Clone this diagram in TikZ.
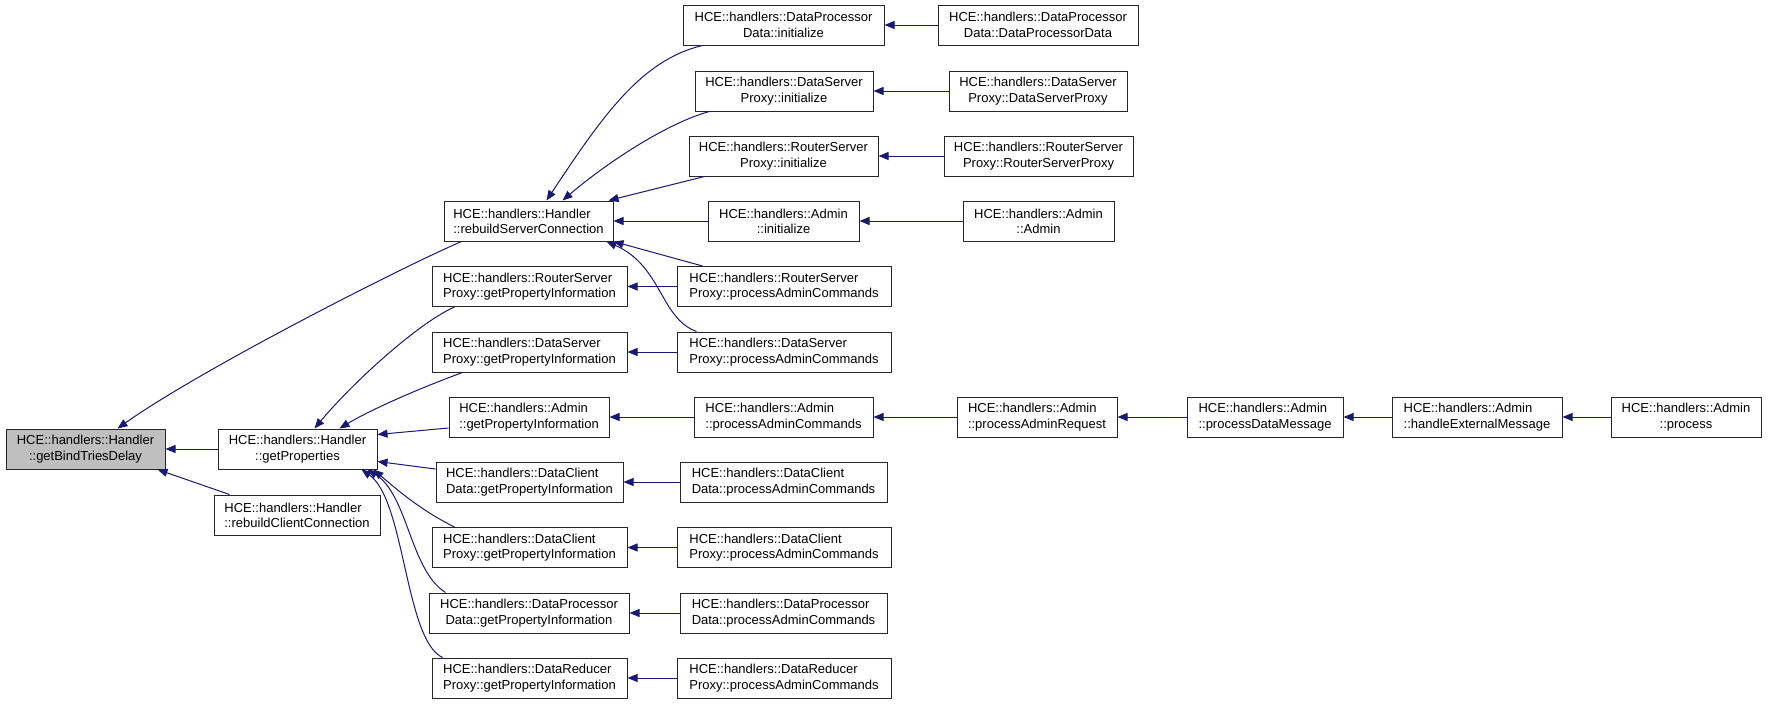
\documentclass[tikz,border=0pt]{standalone}
\usepackage{fontspec}
\setmainfont{Liberation Sans}
\usetikzlibrary{arrows.meta,calc}
\definecolor{edgeblue}{HTML}{191970}
\definecolor{selgray}{HTML}{BFBFBF}
\begin{document}
\begin{tikzpicture}[x=1pt,y=-1pt,
  box/.style={draw=black!85, line width=1pt, fill=white, minimum height=40pt, inner sep=0pt,
              font=\fontsize{13}{15.3}\selectfont},
  cbox/.style={box, align=center},
  lbox/.style={box, align=left},
  edge/.style={draw=edgeblue, line width=1pt, -{Triangle[length=10pt,width=8pt]}}
]
\useasboundingbox (0,0) rectangle (1768,704);
\fill[white] (0,0) rectangle (1768,704);

% column 0
\node[cbox, fill=selgray, minimum width=159pt] (gbtd) at (85.5,449) {HCE::handlers::Handler\\::getBindTriesDelay};
% column 1
\node[cbox, minimum width=159pt] (gp) at (297.5,449) {HCE::handlers::Handler\\::getProperties};
\node[lbox, minimum width=166pt] (rcc) at (297,515) {HCE::handlers::Handler\\::rebuildClientConnection};
% column 2
\node[lbox, minimum width=169pt] (rsc) at (528.5,221) {HCE::handlers::Handler\\::rebuildServerConnection};
\node[lbox, minimum width=195pt] (rspgpi) at (529.5,286.5) {HCE::handlers::RouterServer\\Proxy::getPropertyInformation};
\node[lbox, minimum width=195pt] (dspgpi) at (529.5,352) {HCE::handlers::DataServer\\Proxy::getPropertyInformation};
\node[lbox, minimum width=160pt] (admgpi) at (529,417) {HCE::handlers::Admin\\::getPropertyInformation};
\node[lbox, minimum width=187pt] (dcdgpi) at (529.5,482) {HCE::handlers::DataClient\\Data::getPropertyInformation};
\node[lbox, minimum width=195pt] (dcpgpi) at (529.5,547.5) {HCE::handlers::DataClient\\Proxy::getPropertyInformation};
\node[cbox, minimum width=200pt] (dpdgpi) at (529,613) {HCE::handlers::DataProcessor\\Data::getPropertyInformation};
\node[lbox, minimum width=195pt] (drpgpi) at (529.5,678) {HCE::handlers::DataReducer\\Proxy::getPropertyInformation};
% column 3
\node[cbox, minimum width=201pt] (dpdinit) at (783.5,25) {HCE::handlers::DataProcessor\\Data::initialize};
\node[cbox, minimum width=178pt] (dspinit) at (784,91) {HCE::handlers::DataServer\\Proxy::initialize};
\node[cbox, minimum width=189pt] (rspinit) at (783.5,156) {HCE::handlers::RouterServer\\Proxy::initialize};
\node[cbox, minimum width=151pt] (adminit) at (783.5,221) {HCE::handlers::Admin\\::initialize};
\node[lbox, minimum width=214pt] (rsppac) at (784,286.5) {HCE::handlers::RouterServer\\Proxy::processAdminCommands};
\node[lbox, minimum width=214pt] (dsppac) at (784,352) {HCE::handlers::DataServer\\Proxy::processAdminCommands};
\node[lbox, minimum width=179pt] (admpac) at (783.5,417) {HCE::handlers::Admin\\::processAdminCommands};
\node[lbox, minimum width=207pt] (dcdpac) at (783.5,482) {HCE::handlers::DataClient\\Data::processAdminCommands};
\node[lbox, minimum width=214pt] (dcppac) at (784,547.5) {HCE::handlers::DataClient\\Proxy::processAdminCommands};
\node[lbox, minimum width=207pt] (dpdpac) at (783.5,613) {HCE::handlers::DataProcessor\\Data::processAdminCommands};
\node[lbox, minimum width=214pt] (drppac) at (784,678) {HCE::handlers::DataReducer\\Proxy::processAdminCommands};
% column 4
\node[cbox, minimum width=200pt] (dpdctor) at (1038,25) {HCE::handlers::DataProcessor\\Data::DataProcessorData};
\node[cbox, minimum width=178pt] (dspctor) at (1038,91) {HCE::handlers::DataServer\\Proxy::DataServerProxy};
\node[cbox, minimum width=189pt] (rspctor) at (1038.5,156) {HCE::handlers::RouterServer\\Proxy::RouterServerProxy};
\node[cbox, minimum width=151pt] (admctor) at (1038.5,221) {HCE::handlers::Admin\\::Admin};
\node[lbox, minimum width=160pt] (par) at (1037,417) {HCE::handlers::Admin\\::processAdminRequest};
% columns 5-7
\node[lbox, minimum width=156pt] (pdm) at (1265,417) {HCE::handlers::Admin\\::processDataMessage};
\node[lbox, minimum width=170pt] (hem) at (1477,417) {HCE::handlers::Admin\\::handleExternalMessage};
\node[cbox, minimum width=150pt] (proc) at (1686,417) {HCE::handlers::Admin\\::process};

% edges into getBindTriesDelay
\draw[edge] ($(rsc.south west)+(18,0)$) .. controls (400,268) and (200,370) .. ($(gbtd.north west)+(112,0)$);
\draw[edge] (gp.west) -- (gbtd.east);
\draw[edge] ($(rcc.north west)+(16,0)$) -- ($(gbtd.south east)+(-8,0)$);

% edges into rebuildServerConnection
\draw[edge] ($(dpdinit.south west)+(20,0)$) .. controls (640,60) and (600,120) .. ($(rsc.north west)+(103,0)$);
\draw[edge] ($(dspinit.south west)+(15,0)$) .. controls (670,122) and (610,160) .. ($(rsc.north west)+(119,0)$);
\draw[edge] ($(rspinit.south west)+(16,0)$) -- ($(rsc.north east)+(-5,0)$);
\draw[edge] (adminit.west) -- (rsc.east);
\draw[edge] ($(rsppac.north west)+(26,0)$) -- (rsc.south east);
\draw[edge] ($(dsppac.north west)+(20,0)$) .. controls (660,318) and (662,266) .. ($(rsc.south east)+(-7,0)$);

% edges into getProperties
\draw[edge] ($(rspgpi.south west)+(23,0)$) .. controls (420,322) and (355,380) .. ($(gp.north west)+(97,0)$);
\draw[edge] ($(dspgpi.south west)+(31,0)$) .. controls (420,388) and (370,410) .. ($(gp.north west)+(122,0)$);
\draw[edge] ($(admgpi.west)+(0,11)$) -- ($(gp.north east)+(0,6)$);
\draw[edge] ($(dcdgpi.west)+(0,-13)$) -- ($(gp.south east)+(0,-8)$);
\draw[edge] ($(dcpgpi.north west)+(23,0)$) .. controls (420,510) and (395,488) .. ($(gp.south east)+(-4,0)$);
\draw[edge] ($(dpdgpi.north west)+(17,0)$) .. controls (410,570) and (408,495) .. ($(gp.south east)+(-10,0)$);
\draw[edge] ($(drpgpi.north west)+(11,0)$) .. controls (405,640) and (405,500) .. ($(gp.south east)+(-16,0)$);

% horizontal edges
\draw[edge] (rsppac.west) -- (rspgpi.east);
\draw[edge] (dsppac.west) -- (dspgpi.east);
\draw[edge] (admpac.west) -- (admgpi.east);
\draw[edge] (dcdpac.west) -- (dcdgpi.east);
\draw[edge] (dcppac.west) -- (dcpgpi.east);
\draw[edge] (dpdpac.west) -- (dpdgpi.east);
\draw[edge] (drppac.west) -- (drpgpi.east);
\draw[edge] (par.west) -- (admpac.east);
\draw[edge] (pdm.west) -- (par.east);
\draw[edge] (hem.west) -- (pdm.east);
\draw[edge] (proc.west) -- (hem.east);
\draw[edge] (dpdctor.west) -- (dpdinit.east);
\draw[edge] (dspctor.west) -- (dspinit.east);
\draw[edge] (rspctor.west) -- (rspinit.east);
\draw[edge] (admctor.west) -- (adminit.east);
\end{tikzpicture}
\end{document}
